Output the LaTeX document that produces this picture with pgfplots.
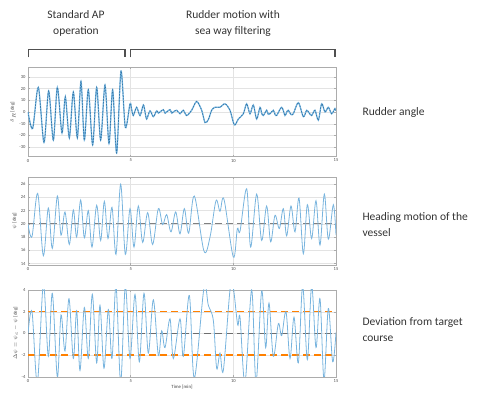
\documentclass[border=0pt]{standalone}
\usepackage{pgfplots}
\pgfplotsset{compat=1.18}
\usepackage{fontspec}
\setmainfont{Carlito}

\definecolor{sigblue}{RGB}{120,180,222}
\definecolor{darkblue}{RGB}{50,120,170}
\definecolor{refgray}{RGB}{110,110,110}
\definecolor{bracketgray}{RGB}{80,80,80}

\pgfplotsset{
  panel/.style={
    scale only axis, width=308pt,
    anchor=north west,
    xmin=0, xmax=15, xtick={0,5,10,15},
    grid=major,
    grid style={gray!22, line width=0.4pt},
    axis line style={gray!65, line width=0.9pt},
    tick style={gray!65, line width=0.4pt},
    tick align=inside, major tick length=2pt,
    ticklabel style={font=\fontsize{4.6}{5}\selectfont, text=black!70},
    /pgf/number format/assume math mode=true,
    xticklabel style={yshift=1pt},
    yticklabel style={xshift=1pt},
    label style={font=\fontsize{4.8}{5}\selectfont, text=black!75},
    ylabel style={yshift=-3pt},
    clip=true,
  },
}

\begin{document}
\begin{tikzpicture}
\useasboundingbox (0pt,0pt) rectangle (483pt,-393pt);

% --- phase annotations above the first panel ---
\node[font=\fontsize{11.5}{16}\selectfont, align=center, text=black!80]
  at (76pt,-23.5pt) {Standard AP\\operation};
\node[font=\fontsize{11.5}{16}\selectfont, align=center, text=black!80]
  at (233pt,-23.5pt) {Rudder motion with\\sea way filtering};
\draw[bracketgray, line width=1.6pt, line cap=butt]
  (28.5pt,-57.5pt) -- (28.5pt,-49.5pt) -- (125pt,-49.5pt) -- (125pt,-57.5pt);
\draw[bracketgray, line width=1.6pt, line cap=butt]
  (130.5pt,-57.5pt) -- (130.5pt,-49.5pt) -- (335pt,-49.5pt) -- (335pt,-57.5pt);

% --- descriptions right of the panels ---
\node[font=\fontsize{11.5}{16}\selectfont, align=left, anchor=west, text=black!80]
  at (359pt,-112pt) {Rudder angle};
\node[font=\fontsize{11.5}{16}\selectfont, align=left, anchor=west, text=black!80]
  at (359pt,-225pt) {Heading motion of the\\vessel};
\node[font=\fontsize{11.5}{16}\selectfont, align=left, anchor=west, text=black!80]
  at (359pt,-329.5pt) {Deviation from target\\course};

% --- rudder angle ---
\begin{axis}[panel, at={(28pt,-67.5pt)}, height=89pt,
  ymin=-38, ymax=38, ytick={-30,-20,-10,0,10,20,30},
  ylabel={$\delta_R$ [deg]}]
\addplot[color=sigblue, line width=1.3pt, smooth, tension=0.5] coordinates {
(0,0) (0.227,-14) (0.503,21) (0.779,-26) (1.006,18) (1.234,-24) (1.429,21)
(1.656,-18) (1.818,13) (2.013,-22) (2.208,17) (2.403,-22) (2.581,26) (2.744,-24)
(2.938,19) (3.149,-28) (3.344,21) (3.539,-24) (3.750,23) (3.945,-27) (4.123,19)
(4.318,-35) (4.529,35) (4.740,-13) (4.968,7) (5.050,2) (5.130,-3) (5.292,4)
(5.455,-3) (5.617,6) (5.700,0) (5.779,-6) (5.942,1) (6.104,-4) (6.266,1)
(6.350,-1) (6.429,0) (6.591,2) (6.680,-1) (6.753,0) (6.916,2) (7.000,-1)
(7.078,0) (7.240,1.5) (7.403,-1.5) (7.565,1.5) (7.727,-3) (7.971,1.5)
(8.214,9) (8.458,1.5) (8.620,-9) (8.782,-6.5) (8.945,1.5) (9.107,4) (9.351,4)
(9.594,7) (9.838,1.5) (10.049,-11) (10.244,-6) (10.487,-1.5) (10.649,7)
(10.812,-1.5) (10.974,6) (11.136,-6) (11.299,4) (11.380,-1) (11.461,-3)
(11.623,1.5) (11.700,-2) (11.786,-1.5) (11.948,1.5) (12.030,-2) (12.110,-3)
(12.354,4) (12.516,-3) (12.600,0) (12.679,1.5) (12.800,-2) (12.922,-1.5)
(13.166,8) (13.409,-4) (13.571,1.5) (13.700,-1) (13.815,-3) (13.977,1.5)
(14.140,-7) (14.302,7) (14.464,0) (14.627,4) (14.789,-1.5) (14.951,3) (15,1)
};
\addplot[color=darkblue, line width=0.7pt, smooth, tension=0.5,
  dash pattern=on 1.6pt off 1.3pt] coordinates {
(0,0) (0.227,-14) (0.503,21) (0.779,-26) (1.006,18) (1.234,-24) (1.429,21)
(1.656,-18) (1.818,13) (2.013,-22) (2.208,17) (2.403,-22) (2.581,26) (2.744,-24)
(2.938,19) (3.149,-28) (3.344,21) (3.539,-24) (3.750,23) (3.945,-27) (4.123,19)
(4.318,-35) (4.529,35) (4.740,-13) (4.968,7) (5.050,2) (5.130,-3) (5.292,4)
(5.455,-3) (5.617,6) (5.700,0) (5.779,-6) (5.942,1) (6.104,-4) (6.266,1)
(6.350,-1) (6.429,0) (6.591,2) (6.680,-1) (6.753,0) (6.916,2) (7.000,-1)
(7.078,0) (7.240,1.5) (7.403,-1.5) (7.565,1.5) (7.727,-3) (7.971,1.5)
(8.214,9) (8.458,1.5) (8.620,-9) (8.782,-6.5) (8.945,1.5) (9.107,4) (9.351,4)
(9.594,7) (9.838,1.5) (10.049,-11) (10.244,-6) (10.487,-1.5) (10.649,7)
(10.812,-1.5) (10.974,6) (11.136,-6) (11.299,4) (11.380,-1) (11.461,-3)
(11.623,1.5) (11.700,-2) (11.786,-1.5) (11.948,1.5) (12.030,-2) (12.110,-3)
(12.354,4) (12.516,-3) (12.600,0) (12.679,1.5) (12.800,-2) (12.922,-1.5)
(13.166,8) (13.409,-4) (13.571,1.5) (13.700,-1) (13.815,-3) (13.977,1.5)
(14.140,-7) (14.302,7) (14.464,0) (14.627,4) (14.789,-1.5) (14.951,3) (15,1)
};
\end{axis}

% --- heading ---
\begin{axis}[panel, at={(28pt,-177.5pt)}, height=87.5pt,
  ymin=13.8, ymax=27, ytick={14,16,18,20,22,24,26},
  ylabel={$\psi$ [deg]}]
\addplot[color=gray, line width=1.0pt, dash pattern=on 7pt off 4pt]
  coordinates {(0,20) (15,20)};
\addplot[color=sigblue, line width=0.8pt, smooth, tension=0.55] coordinates {
(0,20) (0.195,18.1) (0.471,24.6) (0.747,15.2) (0.990,22.4) (1.185,16.3)
(1.429,24.2) (1.607,18.3) (1.802,21.8) (2.013,16.9) (2.208,22.1) (2.370,18.0)
(2.565,23.6) (2.744,17.9) (2.938,22.0) (3.117,16.5) (3.344,22.8) (3.539,17.5)
(3.718,23.4) (3.896,17.8) (4.091,22.5) (4.286,15.4) (4.513,26.0) (4.740,15.4)
(4.968,22.3) (5.162,16.5) (5.373,22.7) (5.584,17.2) (5.828,21.7) (6.071,16.9)
(6.347,22.3) (6.558,19.9) (6.753,21.4) (6.964,18.8) (7.192,21.8) (7.403,18.5)
(7.614,22.3) (7.825,18.6) (8.101,24.2) (8.571,15.9) (8.864,18.0) (9.156,23.5)
(9.351,21.9) (9.545,23.7) (10.000,15.0) (10.195,19.3) (10.325,18.9)
(10.649,25.3) (10.844,16.5) (11.136,24.5) (11.380,17.5) (11.623,22.7)
(11.818,17.3) (12.029,21.3) (12.240,19.3) (12.435,22.3) (12.597,18.2)
(12.808,22.7) (13.003,18.8) (13.198,23.9) (13.409,15.5) (13.604,22.9)
(13.815,17.8) (14.026,23.5) (14.221,16.8) (14.432,24.5) (14.627,17.7)
(14.870,22.9) (15,18.3)
};
\end{axis}

% --- course deviation ---
\begin{axis}[panel, at={(28pt,-290pt)}, height=87pt,
  ymin=-4, ymax=4, ytick={-4,-2,0,2,4},
  ylabel={$\Delta\psi = \psi_c - \psi$ [deg]},
  xlabel={Time [min]}, xlabel style={yshift=4pt}]
\addplot[color=refgray, line width=1.1pt, dash pattern=on 7pt off 4pt]
  coordinates {(0,0) (15,0)};
% tolerance band limits at -2 and +2 deg
\addplot[color=orange, line width=1.5pt, dash pattern=on 7pt off 4pt]
  coordinates {(0,-2) (15,-2)};
\addplot[color=orange, line width=1.5pt, dash pattern=on 7pt off 4pt]
  coordinates {(0,2) (15,2)};
\addplot[color=orange, line width=1.5pt, dash pattern=on 7pt off 4pt]
  coordinates {(0,2) (15,2)};
\addplot[color=sigblue, line width=0.8pt, smooth, tension=0.55] coordinates {
(0,0) (0.195,2.0) (0.455,-4.5) (0.747,4.5) (0.990,-2.1) (1.185,3.7)
(1.429,-4.0) (1.607,1.7) (1.802,-1.6) (1.997,3.2) (2.208,-2.3) (2.370,2.1)
(2.532,-3.4) (2.744,2.4) (2.938,-2.3) (3.133,3.6) (3.344,-2.7) (3.506,2.6)
(3.701,-3.2) (3.912,2.2) (4.091,-2.3) (4.286,4.4) (4.513,-4.5) (4.740,4.4)
(4.968,-2.3) (5.211,3.6) (5.422,-2.6) (5.649,3.7) (5.860,-1.8) (6.104,3.1)
(6.347,-2.0) (6.510,0.25) (6.672,-1.3) (6.916,1.35) (7.078,-2.3) (7.403,1.35)
(7.565,-2.1) (7.857,3.5) (8.101,-4.1) (8.571,4.2) (8.782,2.6) (9.026,1.2)
(9.188,-3.2) (9.351,-1.8) (9.513,-3.4) (9.838,4.0) (10.000,4.2) (10.211,0.8)
(10.325,1.5) (10.568,-4.5) (10.893,4.0) (11.104,-4.5) (11.380,3.9)
(11.575,-1.3) (11.737,2.8) (11.948,-2.1) (12.192,0.9) (12.354,-0.2)
(12.565,2.0) (12.760,-2.3) (12.955,1.5) (13.166,-2.7) (13.377,4.4)
(13.604,-2.4) (13.815,4.4) (14.026,-1.3) (14.221,3.2) (14.416,-4.3)
(14.627,2.3) (14.838,-2.6) (15,0.1)
};
\end{axis}
\end{tikzpicture}
\end{document}
